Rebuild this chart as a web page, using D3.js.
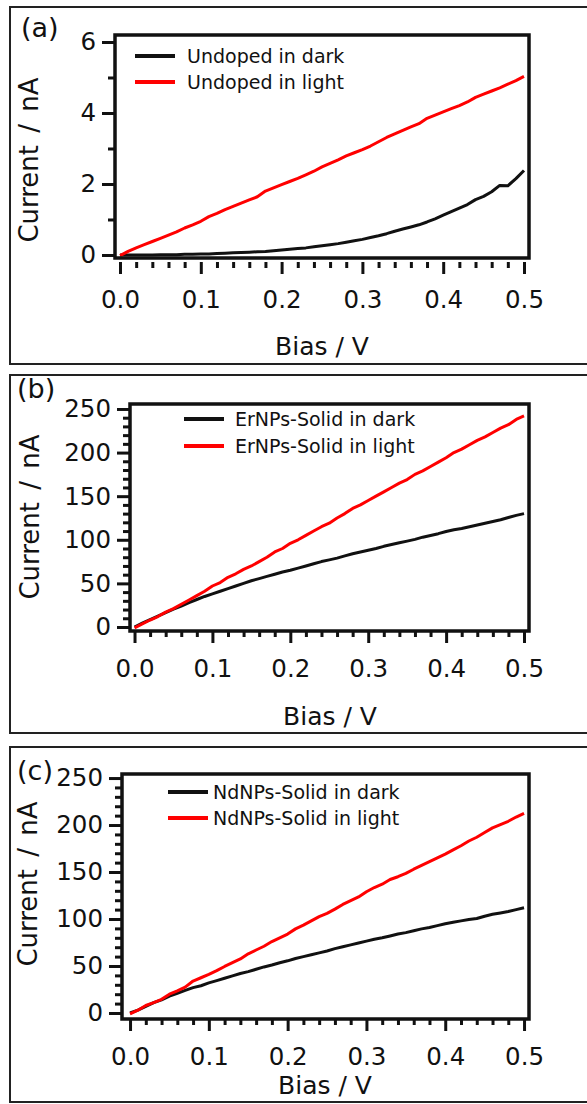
<!DOCTYPE html>
<html>
<head>
<meta charset="utf-8">
<script src="https://cdn.jsdelivr.net/npm/d3@7/dist/d3.min.js"></script>
<style>
  html, body { margin: 0; padding: 0; background: #fff; }
  svg { display: block; }
  text { font-family: "DejaVu Sans", sans-serif; fill: #111; }
</style>
</head>
<body>
<svg id="fig" width="587" height="1104"></svg>
<script>
// ---- data: I–V sweeps, bias in volts, current in nA ----
const biasV = [0.00,0.01,0.02,0.03,0.04,0.05,0.06,0.07,0.08,0.09,
               0.10,0.11,0.12,0.13,0.14,0.15,0.16,0.17,0.18,0.19,
               0.20,0.21,0.22,0.23,0.24,0.25,0.26,0.27,0.28,0.29,
               0.30,0.31,0.32,0.33,0.34,0.35,0.36,0.37,0.38,0.39,
               0.40,0.41,0.42,0.43,0.44,0.45,0.46,0.47,0.48,0.49,0.50];

const undopedDark = [0.00,0.00,0.00,0.00,0.00,0.01,0.01,0.01,0.02,0.02,
                     0.03,0.03,0.04,0.05,0.06,0.07,0.08,0.09,0.10,0.12,
                     0.14,0.16,0.18,0.20,0.23,0.26,0.29,0.32,0.36,0.40,
                     0.44,0.49,0.54,0.60,0.67,0.73,0.79,0.85,0.93,1.02,
                     1.12,1.22,1.32,1.42,1.56,1.65,1.78,1.96,1.95,2.15,2.38];
const undopedLight = [-0.02,0.10,0.20,0.29,0.38,0.47,0.56,0.65,0.76,0.85,
                      0.95,1.08,1.17,1.28,1.37,1.46,1.55,1.64,1.80,1.89,
                      1.98,2.07,2.16,2.26,2.36,2.48,2.58,2.68,2.79,2.88,
                      2.97,3.07,3.19,3.31,3.41,3.51,3.61,3.70,3.85,3.94,
                      4.03,4.12,4.21,4.31,4.44,4.53,4.62,4.71,4.81,4.91,5.03];

const erDark = [0,4.5,8.5,12.5,16.5,20.5,24,28,31.5,35,
                38,41,44,47,50,53,55.5,58,60.5,63,
                65,67.5,70,72.5,75,77,79,81.5,84,86,
                88,90,92.5,94.5,96.5,98.5,100.5,103,105,107,
                109.5,111.5,113,115,117,119,121,123,125.5,128,130];
const erLight = [-1,3.5,8,12,17,21,26,31,36,41,
                 47,51,57,61,66,70,75,80,86,90,
                 96,100,105,110,115,119,125,130,136,140,
                 145,150,155,160,165,169,175,179,184,189,
                 194,200,204,209,214,218,223,228,232,238,242];

const ndDark = [0,3,7,11,14,18,21,24,27,29,
                32,34.5,37,39.5,42,44,46.5,49,51,53.5,
                55.5,58,60,62,64,66,68.5,70.5,72.5,74.5,
                76.5,78.5,80,82,84,85.5,87.5,89.5,91,93,
                95,96.5,98,99.5,100.5,103,105,106.5,108,110,112];
const ndLight = [-1,3,8,11,14.5,20,23.5,27.5,34,37.5,
                 41,45,49.5,53.5,57.5,63,67,71,76,80,
                 84,89.5,93.5,98,102.5,106,110.5,115.5,119.5,123.5,
                 129,133.5,137,142,145,148.5,153,157,161,165,
                 169,173.5,178,183,187,192,197,200.5,204,208.5,212.5];

// axis ticks
const xMajorTicks = [0, 0.1, 0.2, 0.3, 0.4, 0.5];
const xMinorTicks = [0.02,0.04,0.06,0.08,0.12,0.14,0.16,0.18,0.22,0.24,0.26,0.28,
                     0.32,0.34,0.36,0.38,0.42,0.44,0.46,0.48];
const yMajorUndoped = [0, 2, 4, 6];
const yMinorUndoped = [1, 3, 5];
const yMajorNP = [0, 50, 100, 150, 200, 250];
const yMinorNP = [10,20,30,40,60,70,80,90,110,120,130,140,160,170,180,190,210,220,230,240];

const legendUndoped = ["Undoped in dark", "Undoped in light"];
const legendEr = ["ErNPs-Solid in dark", "ErNPs-Solid in light"];
const legendNd = ["NdNPs-Solid in dark", "NdNPs-Solid in light"];

const xTitle = "Bias / V";
const yTitle = "Current / nA";

// ---- layout of the three stacked panels ----
const panels = [
  { tag: "(a)", tagPos: [21, 37], box: [10, 7, 364],
    plot: { l: 115, t: 35, r: 529, b: 258 }, xAxisGap: 4,
    xDom: [-0.0062, 0.5062], yDom: [-0.085, 6.197],
    yMajor: yMajorUndoped, yMinor: yMinorUndoped, yFmt: d3.format("d"),
    dark: undopedDark, light: undopedLight, names: legendUndoped,
    legend: { x: 135, y: 56, dy: 26, tx: 187 },
    xTitlePos: [322, 346], yTitlePos: [29, 160] },
  { tag: "(b)", tagPos: [17, 398], box: [10, 375, 733],
    plot: { l: 130, t: 404, r: 529, b: 631 }, xAxisGap: 0,
    xDom: [-0.0058, 0.5064], yDom: [-4.6, 255.7],
    yMajor: yMajorNP, yMinor: yMinorNP, yFmt: d3.format("d"),
    dark: erDark, light: erLight, names: legendEr,
    legend: { x: 184, y: 419, dy: 27, tx: 235 },
    xTitlePos: [330, 716], yTitlePos: [30, 517] },
  { tag: "(c)", tagPos: [17, 780], box: [10, 747, 1102],
    plot: { l: 122, t: 774, r: 529, b: 1019 }, xAxisGap: 0,
    xDom: [-0.0102, 0.5063], yDom: [-6.4, 254.3],
    yMajor: yMajorNP, yMinor: yMinorNP, yFmt: d3.format("d"),
    dark: ndDark, light: ndLight, names: legendNd,
    legend: { x: 168, y: 792, dy: 26, tx: 213 },
    xTitlePos: [325, 1085], yTitlePos: [28, 884] }
];

const svg = d3.select("#fig");
const INK = "#111";
const RED = "#ff0000";

panels.forEach(p => {
  const g = svg.append("g");

  // outer panel border (runs off the right edge)
  g.append("rect")
    .attr("x", 10).attr("y", p.box[1])
    .attr("width", 600).attr("height", p.box[2] - p.box[1])
    .attr("fill", "none").attr("stroke", "#222").attr("stroke-width", 2);

  g.append("text").attr("x", p.tagPos[0]).attr("y", p.tagPos[1])
    .attr("font-size", 27).text(p.tag);

  const x = d3.scaleLinear().domain(p.xDom).range([p.plot.l, p.plot.r]);
  const y = d3.scaleLinear().domain(p.yDom).range([p.plot.b, p.plot.t]);

  // curves
  const line = d3.line().x((d, i) => x(biasV[i])).y(d => y(d));
  g.append("path").datum(p.dark).attr("d", line)
    .attr("fill", "none").attr("stroke", INK).attr("stroke-width", 3)
    .attr("stroke-linejoin", "round");
  g.append("path").datum(p.light).attr("d", line)
    .attr("fill", "none").attr("stroke", RED).attr("stroke-width", 3)
    .attr("stroke-linejoin", "round");

  // plot frame
  g.append("rect")
    .attr("x", p.plot.l).attr("y", p.plot.t)
    .attr("width", p.plot.r - p.plot.l).attr("height", p.plot.b - p.plot.t)
    .attr("fill", "none").attr("stroke", INK).attr("stroke-width", 3.5);

  // y axis
  const yMaj = g.append("g").attr("transform", `translate(${p.plot.l},0)`)
    .call(d3.axisLeft(y).tickValues(p.yMajor).tickSize(13).tickPadding(6).tickFormat(p.yFmt));
  const yMin = g.append("g").attr("transform", `translate(${p.plot.l},0)`)
    .call(d3.axisLeft(y).tickValues(p.yMinor).tickSize(7).tickFormat(""));

  // x axis
  const xy = p.plot.b + p.xAxisGap;
  const xMaj = g.append("g").attr("transform", `translate(0,${xy})`)
    .call(d3.axisBottom(x).tickValues(xMajorTicks).tickSize(12).tickPadding(16.5).tickFormat(d3.format(".1f")));
  const xMin = g.append("g").attr("transform", `translate(0,${xy})`)
    .call(d3.axisBottom(x).tickValues(xMinorTicks).tickSize(6).tickFormat(""));

  [yMaj, yMin, xMaj, xMin].forEach(a => {
    a.select(".domain").remove();
    a.selectAll(".tick line").attr("stroke", INK).attr("stroke-width", 3);
    a.selectAll(".tick text").attr("fill", INK)
      .attr("font-family", '"DejaVu Sans", sans-serif').attr("font-size", 24.5);
  });

  // titles
  g.append("text").attr("x", p.xTitlePos[0]).attr("y", p.xTitlePos[1])
    .attr("text-anchor", "middle").attr("dominant-baseline", "central")
    .attr("font-size", 25).text(xTitle);
  g.append("text")
    .attr("transform", `translate(${p.yTitlePos[0]},${p.yTitlePos[1]}) rotate(-90)`)
    .attr("text-anchor", "middle").attr("dominant-baseline", "central")
    .attr("font-size", 26).attr("word-spacing", 4).text(yTitle);

  // legend
  [INK, RED].forEach((c, i) => {
    const ly = p.legend.y + i * p.legend.dy;
    g.append("line").attr("x1", p.legend.x).attr("x2", p.legend.x + 40)
      .attr("y1", ly).attr("y2", ly).attr("stroke", c).attr("stroke-width", 4);
    g.append("text").attr("x", p.legend.tx).attr("y", ly + 7)
      .attr("font-size", 19).text(p.names[i]);
  });
});
</script>
</body>
</html>
